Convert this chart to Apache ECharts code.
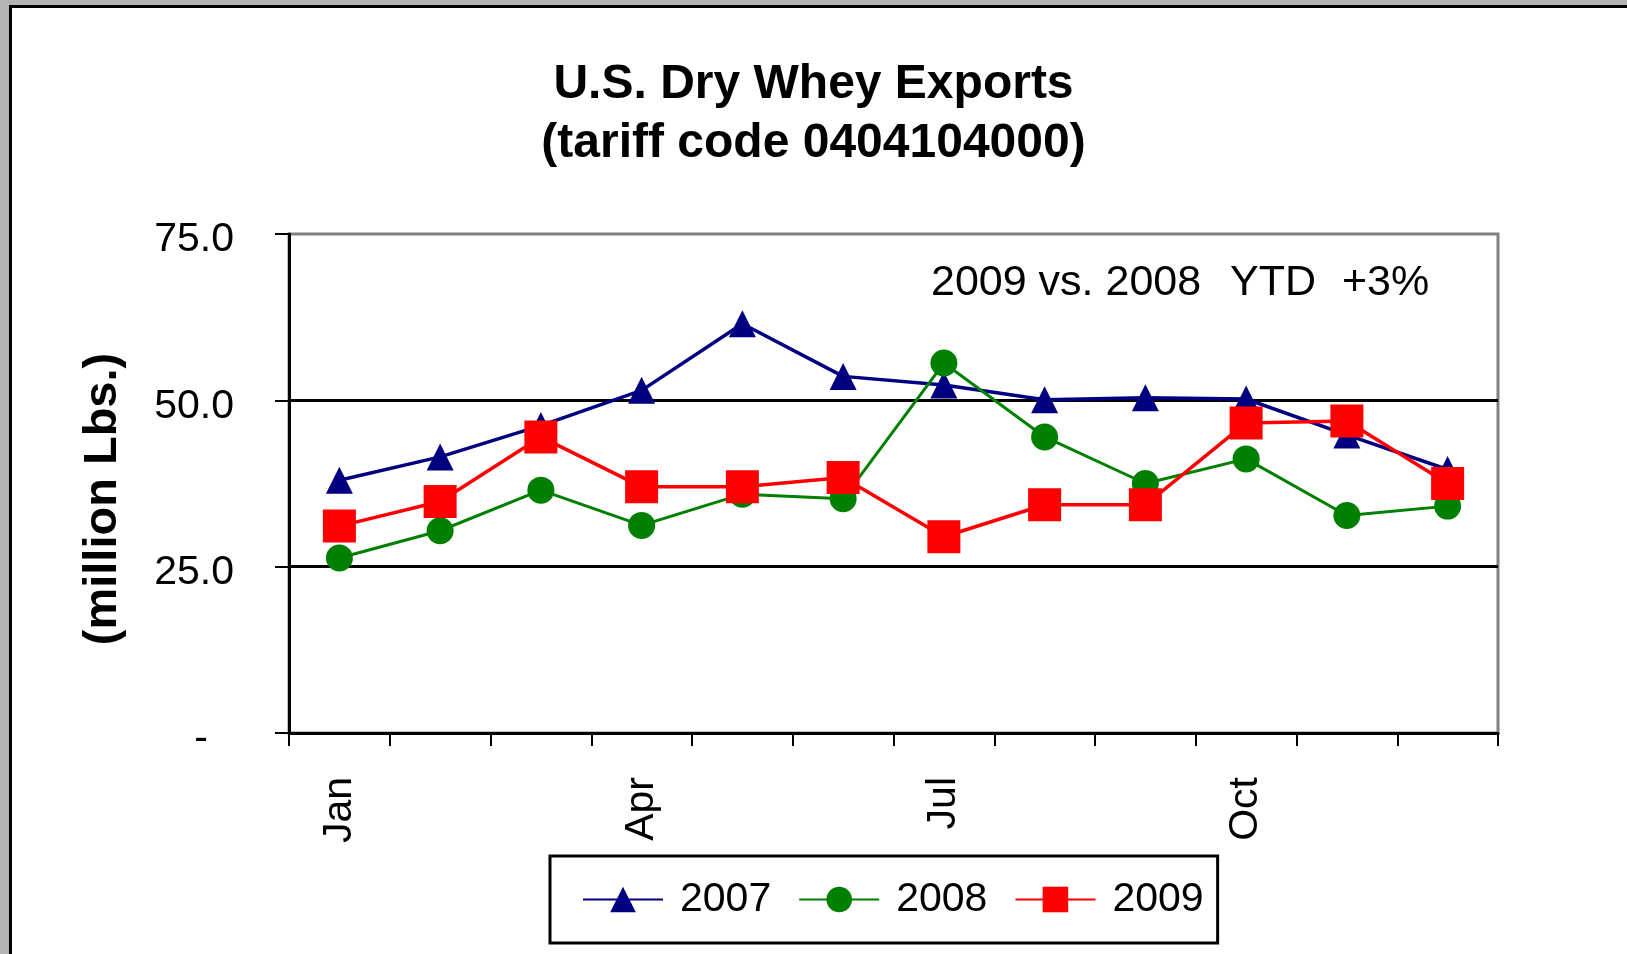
<!DOCTYPE html>
<html>
<head>
<meta charset="utf-8">
<script src="https://cdn.jsdelivr.net/npm/echarts@6/dist/echarts.min.js"></script>
<style>
    html, body { margin: 0; padding: 0; background: #b3b3b3; overflow: hidden; }
    #frame { position: absolute; left: 9px; top: 5px; width: 1700px; height: 1000px; background: #fff; border: 3px solid #000; }
    #chart { position: absolute; left: 0; top: 0; width: 1627px; height: 954px; }
</style>
</head>
<body>
<div id="frame"></div>
<div id="chart"></div>
<script>
let months = ['Jan', 'Feb', 'Mar', 'Apr', 'May', 'Jun', 'Jul', 'Aug', 'Sep', 'Oct', 'Nov', 'Dec'];
let yTicks = [0, 25, 50, 75];
let exports2007 = [38.0, 41.5, 46.2, 51.5, 61.5, 53.6, 52.3, 50.1, 50.4, 50.2, 44.8, 39.6];
let exports2008 = [26.3, 30.4, 36.5, 31.2, 35.9, 35.2, 55.6, 44.5, 37.5, 41.2, 32.7, 34.1];
let exports2009 = [31.1, 34.8, 44.5, 37.0, 37.0, 38.4, 29.5, 34.3, 34.3, 46.6, 46.9, 37.5];

let font = "'Liberation Sans', Arial, sans-serif";

let series = (name, data, color, symbol, size, width) => ({
    name: name,
    type: 'line',
    data: data,
    symbol: symbol,
    symbolSize: size,
    showAllSymbol: true,
    color: color,
    itemStyle: { color: color },
    lineStyle: { color: color, width: width },
    emphasis: { disabled: true }
});

let option = {
    animation: false,
    backgroundColor: 'transparent',
    textStyle: { fontFamily: font },
    title: {
        left: 'center',
        top: 50,
        text: 'U.S. Dry Whey Exports\n(tariff code 0404104000)',
        textStyle: {
            fontFamily: font,
            fontSize: 48,
            fontWeight: 'bold',
            color: '#000',
            lineHeight: 59
        }
    },
    grid: {
        left: 289,
        top: 234,
        width: 1209,
        height: 499,
        show: true,
        borderColor: '#808080',
        borderWidth: 3,
        backgroundColor: 'transparent'
    },
    xAxis: {
        type: 'category',
        data: months,
        boundaryGap: true,
        axisLine: { lineStyle: { color: '#000', width: 3 } },
        axisTick: { show: true, interval: 0, length: 13, lineStyle: { color: '#000', width: 2 } },
        axisLabel: {
            interval: 2,
            rotate: 90,
            margin: 44,
            fontFamily: font,
            fontSize: 41,
            color: '#000'
        },
        splitLine: { show: false }
    },
    yAxis: {
        type: 'value',
        min: yTicks[0],
        max: yTicks[yTicks.length - 1],
        interval: 25,
        axisLine: { show: true, lineStyle: { color: '#000', width: 3 } },
        axisTick: { show: true, length: 14, lineStyle: { color: '#000', width: 2 } },
        axisLabel: {
            margin: 55,
            padding: [12, 0, 0, 0],
            fontFamily: font,
            fontSize: 41,
            color: '#000',
            formatter: v => v === 0 ? '{d|-}' : v.toFixed(1),
            rich: { d: { fontSize: 41, color: '#000', padding: [0, 26, 0, 0] } }
        },
        splitLine: { show: true, showMinLine: false, showMaxLine: false, lineStyle: { color: '#000', width: 3 } }
    },
    legend: {
        data: ['2007', '2008', '2009'],
        left: 550,
        top: 856,
        orient: 'horizontal',
        itemWidth: 80,
        itemHeight: 32,
        itemGap: 27,
        padding: [23, 14, 23, 32],
        borderColor: '#000',
        borderWidth: 3,
        backgroundColor: '#fff',
        textStyle: { fontFamily: font, fontSize: 41, color: '#000', padding: [0, 0, 0, 12] }
    },
    graphic: [
        {
            type: 'text', x: 103, y: 499, rotation: Math.PI / 2,
            style: { text: '(million Lbs.)', font: 'bold 47px ' + font, fill: '#000', align: 'center', verticalAlign: 'middle' }
        },
        { type: 'text', left: 931, top: 262, style: { text: '2009 vs. 2008', font: '43px ' + font, fill: '#000' } },
        { type: 'text', left: 1230, top: 262, style: { text: 'YTD', font: '43px ' + font, fill: '#000' } },
        { type: 'text', left: 1342, top: 262, style: { text: '+3%', font: '43px ' + font, fill: '#000' } }
    ],
    series: [
        series('2007', exports2007, '#000080', 'triangle', 27, 3.5),
        series('2008', exports2008, '#008000', 'circle', 27, 3),
        series('2009', exports2009, '#ff0000', 'rect', 33, 3.5)
    ]
};

let myChart = echarts.init(document.getElementById('chart'));
myChart.setOption(option);
</script>
</body>
</html>
